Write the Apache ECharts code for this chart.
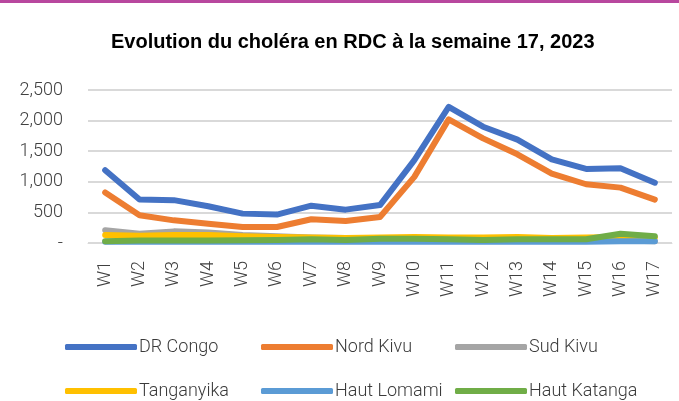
<!DOCTYPE html>
<html>
<head>
<meta charset="utf-8">
<script src="https://cdn.jsdelivr.net/npm/echarts@6/dist/echarts.min.js"></script>
<style>html,body{margin:0;padding:0;background:#fff;}#c{width:679px;height:401px;}</style>
</head>
<body>
<div id="c"></div>
<script>
var weeks = ['W1','W2','W3','W4','W5','W6','W7','W8','W9','W10','W11','W12','W13','W14','W15','W16','W17'];
var drCongo    = [1190, 710, 700, 600, 480, 465, 610, 545, 620, 1355, 2225, 1900, 1690, 1365, 1210, 1220, 985];
var nordKivu   = [825, 453, 370, 315, 262, 262, 388, 360, 425, 1080, 2020, 1710, 1450, 1135, 960, 905, 710];
var sudKivu    = [210, 150, 190, 170, 130, 110, 90, 80, 70, 60, 50, 40, 50, 40, 40, 40, 30];
var tanganyika = [130, 120, 130, 130, 110, 100, 90, 80, 90, 100, 90, 90, 100, 80, 90, 100, 90];
var hautLomami = [20, 20, 20, 20, 20, 20, 20, 20, 20, 20, 20, 20, 20, 20, 20, 30, 30];
var hautKatanga= [30, 40, 40, 40, 45, 50, 60, 50, 70, 70, 60, 50, 60, 60, 60, 150, 110];
var yTicks = [0, 500, 1000, 1500, 2000, 2500];

var names = ['DR Congo','Nord Kivu','Sud Kivu','Tanganyika','Haut Lomami','Haut Katanga'];
var colors = ['#4472C4','#ED7D31','#A5A5A5','#FFC000','#5B9BD5','#70AD47'];
var datas = [drCongo, nordKivu, sudKivu, tanganyika, hautLomami, hautKatanga];

var legendPos = [[65,338],[261,338],[455,338],[65,382],[261,382],[455,382]];
var legends = names.map(function(n,i){
  return {
    data:[n], left: legendPos[i][0], top: legendPos[i][1], padding:0,
    icon:'roundRect', itemWidth:72, itemHeight:6, itemGap:0,
    textStyle:{fontFamily:'Roboto', fontWeight:300, fontSize:18, color:'#3A3A3A', padding:[0,0,0,-3]}
  };
});

var chart = echarts.init(document.getElementById('c'));
chart.setOption({
  animation:false,
  color: colors,
  title:{
    text:'Evolution du choléra en RDC à la semaine 17, 2023',
    left:106, top:27,
    textStyle:{fontFamily:'Liberation Sans', fontWeight:'bold', fontSize:20, color:'#000'}
  },
  graphic:[{type:'rect', shape:{x:0,y:0,width:679,height:3}, style:{fill:'#B8479E'}}],
  legend: legends,
  grid:{left:88, right:7, top:90, bottom:158},
  xAxis:{
    type:'category', data:weeks, boundaryGap:true,
    axisLine:{show:true, lineStyle:{color:'#D9D9D9', width:1}},
    axisTick:{show:false},
    axisLabel:{rotate:90, margin:18, fontFamily:'Roboto', fontWeight:300, fontSize:18, color:'#404040'}
  },
  yAxis:{
    type:'value', min:0, max:2500, interval:500,
    axisLine:{show:false}, axisTick:{show:false},
    splitLine:{lineStyle:{color:'#D9D9D9', width:2}},
    axisLabel:{margin:25, fontFamily:'Roboto', fontWeight:300, fontSize:18, color:'#404040',
      formatter:function(v){ return v===0 ? '-' : v.toLocaleString('en-US'); }}
  },
  series: names.map(function(n,i){
    return {name:n, type:'line', data:datas[i], symbol:'none', lineStyle:{width:6, color:colors[i], cap:'round', join:'round'}, itemStyle:{color:colors[i]}};
  })
});
</script>
</body>
</html>
